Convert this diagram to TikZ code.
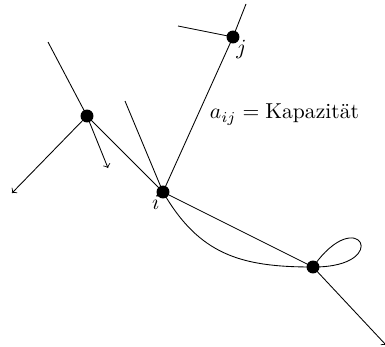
\documentclass[tikz,border=0pt]{standalone}
\usetikzlibrary{arrows}
\tikzset{
  knot/.style={circle,fill,inner sep=0pt,minimum size=6pt},
}
\begin{document}
\begin{tikzpicture}[x=0.463pt,y=-0.463pt,>=to,thin]
  \useasboundingbox (0,0) rectangle (385,347);
  % Knoten
  \node[knot] (A) at (87,116) {};
  \node[knot] (i) at (163,192) {};
  \node[knot] (j) at (233,37) {};
  \node[knot] (B) at (313,267) {};
  \node[below left=-2pt] (li) at (i) {$i$};
  \node[below right=-2pt] (lj) at (j) {$j$};
  % lose Enden
  \coordinate (a1) at (48,42);
  \coordinate (a2) at (12,193);
  \coordinate (a3) at (108,168);
  \coordinate (i1) at (125,101);
  \coordinate (j1) at (178,26);
  \coordinate (j2) at (246,4);
  \coordinate (b1) at (386,345);
  % Kanten
  \draw[->] (a1) -- (A.center);
  \draw[->] (A.center) -- (a2);
  \draw[->] (A.center) -- (a3);
  \draw[->] (A.center) -- (i.center);
  \draw[->] (i1) -- (i.center);
  \draw[->] (j.center) -- (i.center)
    node[midway,right,xshift=2pt] (cap) {$a_{ij}=\mbox{Kapazit\"at}$};
  \draw[->] (j1) -- (j.center);
  \draw[->] (j2) -- (j.center);
  \draw[->] (i.center) -- (B.center);
  \draw[->] (i.center) to[out=-60,in=180,looseness=1.1] (B.center);
  \draw[->] (B.center) to[out=55,in=0,min distance=37pt] (B.center);
  \draw[->] (B.center) -- (b1);
\end{tikzpicture}
\end{document}
